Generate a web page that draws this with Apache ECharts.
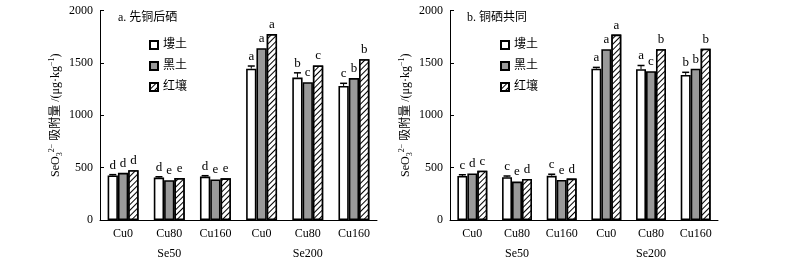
<!DOCTYPE html>
<html><head><meta charset="utf-8">
<script src="https://cdn.jsdelivr.net/npm/echarts@6/dist/echarts.min.js"></script>
<style>html,body{margin:0;padding:0;background:#fff}#c{width:800px;height:269px}</style>
</head><body><div id="c"></div>
<script>
// ---- data ----
const cuCats = ['Cu0', 'Cu80', 'Cu160', 'Cu0', 'Cu80', 'Cu160'];
const seCats = ['Se50', 'Se200'];
const soilNames = ['塿土', '黑土', '红壤'];
const yTicks = [0, 500, 1000, 1500, 2000];

// panel a: 先铜后硒
const aLou = [425, 405, 415, 1445, 1360, 1280];
const aHei = [450, 380, 387, 1640, 1315, 1355];
const aHong = [475, 400, 398, 1775, 1475, 1535];
const aLouErr = [8, 8, 8, 25, 45, 25];
const aHeiErr = [0, 0, 0, 0, 0, 0];
const aHongErr = [0, 0, 0, 0, 0, 0];
const aLouSig = ['d', 'd', 'd', 'a', 'b', 'c'];
const aHeiSig = ['d', 'e', 'e', 'a', 'c', 'b'];
const aHongSig = ['d', 'e', 'e', 'a', 'c', 'b'];

// panel b: 铜硒共同
const bLou = [420, 408, 422, 1445, 1440, 1385];
const bHei = [445, 367, 382, 1630, 1420, 1445];
const bHong = [470, 392, 395, 1770, 1630, 1635];
const bLouErr = [12, 12, 15, 12, 35, 25];
const bHeiErr = [0, 0, 0, 0, 0, 0];
const bHongErr = [0, 0, 0, 0, 0, 0];
const bLouSig = ['c', 'c', 'c', 'a', 'a', 'b'];
const bHeiSig = ['d', 'e', 'e', 'a', 'c', 'b'];
const bHongSig = ['c', 'd', 'd', 'a', 'b', 'b'];

const titles = ['a. 先铜后硒', 'b. 铜硒共同'];

// ---- styling ----
const FONT = "'Liberation Serif','Times New Roman','Noto Sans CJK SC',serif";
const GAP = 0.33;
const soilStyles = [
  {color: '#ffffff', borderColor: '#000', borderWidth: 1.6},
  {color: '#9a9a9a', borderColor: '#000', borderWidth: 1.6},
  {color: '#ffffff', borderColor: '#000', borderWidth: 1.6,
   decal: {symbol: 'rect', symbolSize: 1, dashArrayX: [[1, 0]], dashArrayY: [1, 3], rotation: -Math.PI / 4, color: '#000', backgroundColor: '#fff'}}
];

const grids = [
  {left: 100, width: 277, top: 10.5, bottom: 49},
  {left: 450, width: 268, top: 10.5, bottom: 49}
];

const panels = [
  {vals: [aLou, aHei, aHong], errs: [aLouErr, aHeiErr, aHongErr], sigs: [aLouSig, aHeiSig, aHongSig]},
  {vals: [bLou, bHei, bHong], errs: [bLouErr, bHeiErr, bHongErr], sigs: [bLouSig, bHeiSig, bHongSig]}
];

const xAxis = [], yAxis = [], series = [], legend = [], title = [];
panels.forEach((p, g) => {
  xAxis.push({
    type: 'category', gridIndex: g, data: cuCats, position: 'bottom',
    axisLine: {lineStyle: {color: '#000', width: 1}},
    axisTick: {length: 22, lineStyle: {color: '#000', width: 1}},
    axisLabel: {color: '#000', fontFamily: FONT, fontSize: 12, margin: 8}
  });
  xAxis.push({
    type: 'category', gridIndex: g, data: seCats, position: 'bottom',
    axisLine: {show: false},
    axisTick: {length: 45, lineStyle: {color: '#000', width: 1}},
    axisLabel: {color: '#000', fontFamily: FONT, fontSize: 12, margin: 28}
  });
  yAxis.push({
    type: 'value', gridIndex: g, min: yTicks[0], max: yTicks[yTicks.length - 1], interval: 500,
    axisLine: {show: true, lineStyle: {color: '#000', width: 1}},
    axisTick: {show: true, inside: true, length: 4, lineStyle: {color: '#000'}},
    splitLine: {show: false},
    axisLabel: {color: '#000', fontFamily: FONT, fontSize: 12, margin: 7, formatter: v => String(v)},
    name: '{t|SeO}{sub|3}{sup|2−}{t| 吸附量 /(μg·kg}{sup|−1}{t|)}',
    nameLocation: 'middle', nameRotate: 90, nameGap: 36,
    nameTextStyle: {
      color: '#000', fontFamily: FONT, fontSize: 12,
      rich: {
        t: {fontFamily: FONT, fontSize: 12, color: '#000', lineHeight: 16},
        sub: {fontFamily: FONT, fontSize: 8, color: '#000', verticalAlign: 'bottom', lineHeight: 16, padding: [6, 0, 0, 0]},
        sup: {fontFamily: FONT, fontSize: 8, color: '#000', verticalAlign: 'top', lineHeight: 16, padding: [0, 0, 6, 0]}
      }
    }
  });
  p.vals.forEach((v, k) => {
    series.push({
      name: soilNames[k], type: 'bar', xAxisIndex: g * 2, yAxisIndex: g,
      data: v, barGap: '0%', barCategoryGap: (GAP * 100) + '%',
      itemStyle: soilStyles[k], emphasis: {disabled: true}, animation: false
    });
  });
  p.vals.forEach((v, k) => {
    const errs = p.errs[k], sigs = p.sigs[k];
    series.push({
      name: 'ov' + g + k, type: 'custom', xAxisIndex: g * 2, yAxisIndex: g, z: 5, animation: false,
      data: v.map((val, i) => [i, val, errs[i]]),
      renderItem: (params, api) => {
        const ci = api.value(0), val = api.value(1), e = api.value(2);
        const base = api.coord([ci, val]);
        const band = api.size([1, 0])[0];
        const bw = band * (1 - GAP) / 3;
        const x = base[0] + (k - 1) * bw;
        const top = api.coord([ci, val + e]);
        const children = [];
        if (e > 0) {
          children.push({type: 'line', shape: {x1: x, y1: base[1], x2: x, y2: top[1]}, style: {stroke: '#000', lineWidth: 1}});
          children.push({type: 'line', shape: {x1: x - 3.5, y1: top[1], x2: x + 3.5, y2: top[1]}, style: {stroke: '#000', lineWidth: 1.5}});
        }
        children.push({type: 'text', x: x, y: top[1] - 3,
          style: {text: sigs[params.dataIndex], textAlign: 'center', textVerticalAlign: 'bottom', fill: '#000', font: '13px ' + FONT}});
        return {type: 'group', children: children};
      }
    });
  });
  legend.push({
    data: soilNames, orient: 'vertical', left: g === 0 ? 144 : 495, top: 34, itemGap: 9,
    itemWidth: 8, itemHeight: 8, icon: 'rect', selectedMode: false,
    textStyle: {color: '#000', fontFamily: FONT, fontSize: 12}
  });
  title.push({text: titles[g], left: g === 0 ? 113 : 462, top: 7,
    textStyle: {color: '#000', fontFamily: FONT, fontSize: 12, fontWeight: 'normal'}});
});

const chart = echarts.init(document.getElementById('c'), null, {renderer: 'canvas'});
chart.setOption({
  animation: false, backgroundColor: '#fff', aria: {enabled: false},
  title: title, legend: legend, grid: grids, xAxis: xAxis, yAxis: yAxis, series: series
});
</script></body></html>
